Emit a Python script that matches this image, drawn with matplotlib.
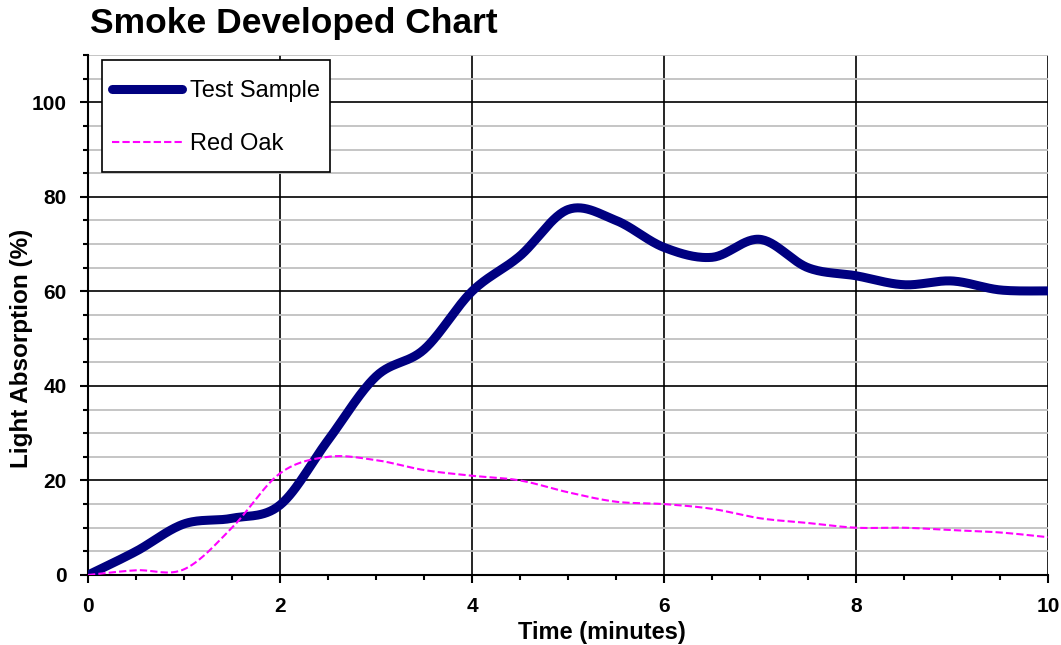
import numpy as np
import matplotlib
matplotlib.use("Agg")
import matplotlib.pyplot as plt
from matplotlib.ticker import MultipleLocator
from matplotlib.patches import Rectangle

time_min = [0, 0.5, 1, 1.5, 2, 2.5, 3, 3.5, 4, 4.5, 5, 5.5, 6, 6.5, 7, 7.5, 8, 8.5, 9, 9.5, 10]
test_sample = [0, 5, 10.8, 12, 14.8, 28.5, 42, 47.7, 60, 67.5, 77.3, 75, 69.3, 67.2, 71, 65, 63.3, 61.4, 62.2, 60.3, 60.1]
red_oak = [0, 1, 1.2, 10, 21.5, 25, 24.3, 22.2, 21, 20, 17.5, 15.5, 15, 14, 12, 11, 10, 10, 9.5, 9, 8]

title = "Smoke Developed Chart"
xlabel = "Time (minutes)"
ylabel = "Light Absorption (%)"


def smooth(x, y, n=30):
    # Catmull-Rom (Excel-like smoothed line) through the given points
    x = np.asarray(x, float)
    y = np.asarray(y, float)
    px = np.concatenate([[x[0]], x, [x[-1]]])
    py = np.concatenate([[y[0]], y, [y[-1]]])
    xs, ys = [], []
    t = np.linspace(0, 1, n, endpoint=False)
    for i in range(1, len(px) - 2):
        p0x, p1x, p2x, p3x = px[i - 1], px[i], px[i + 1], px[i + 2]
        p0y, p1y, p2y, p3y = py[i - 1], py[i], py[i + 1], py[i + 2]
        c1x = p1x + (p2x - p0x) / 6
        c1y = p1y + (p2y - p0y) / 6
        c2x = p2x - (p3x - p1x) / 6
        c2y = p2y - (p3y - p1y) / 6
        bx = (1 - t) ** 3 * p1x + 3 * (1 - t) ** 2 * t * c1x + 3 * (1 - t) * t ** 2 * c2x + t ** 3 * p2x
        by = (1 - t) ** 3 * p1y + 3 * (1 - t) ** 2 * t * c1y + 3 * (1 - t) * t ** 2 * c2y + t ** 3 * p2y
        xs.append(bx)
        ys.append(by)
    xs.append([x[-1]])
    ys.append([y[-1]])
    return np.concatenate(xs), np.concatenate(ys)


plt.rcParams['font.family'] = ['Liberation Sans', 'DejaVu Sans']

fig = plt.figure(figsize=(10.61, 6.45), dpi=100)
W, H = 1061, 645
ax = fig.add_axes([88 / W, 1 - 575 / H, (1048 - 88) / W, (575 - 55) / H])

ax.set_xlim(0, 10)
ax.set_ylim(0, 110)

ax.xaxis.set_major_locator(MultipleLocator(2))
ax.xaxis.set_minor_locator(MultipleLocator(0.5))
ax.yaxis.set_major_locator(MultipleLocator(20))
ax.yaxis.set_minor_locator(MultipleLocator(5))

ax.grid(which='major', axis='both', color='black', linewidth=1.2)
ax.grid(which='minor', axis='y', color='#c0c0c0', linewidth=1.3)
ax.set_axisbelow(True)

for s in ['top', 'right']:
    ax.spines[s].set_visible(False)
for s in ['left', 'bottom']:
    ax.spines[s].set_linewidth(1.5)
    ax.spines[s].set_color('black')

ax.tick_params(which='major', direction='out', length=5.8, width=1.5, labelsize=15)
ax.tick_params(which='minor', direction='out', length=3.6, width=1.5)
ax.tick_params(axis='x', which='major', pad=10)
ax.tick_params(axis='y', which='major', pad=9.4)
for lab in ax.get_xticklabels() + ax.get_yticklabels():
    lab.set_fontweight('bold')

sx, sy = smooth(time_min, test_sample)
ax.plot(sx, sy, color='#000080', linewidth=6.5, solid_capstyle='round', label='Test Sample', zorder=3)
rx, ry = smooth(time_min, red_oak)
ax.plot(rx, ry, color='#ff00ff', linewidth=1.5, linestyle=(0, (3.5, 1.5)), label='Red Oak', zorder=3)

fig.text(602 / W, 1 - 633 / H, xlabel, fontsize=17, fontweight='bold', ha='center', va='center')
fig.text(22 / W, 1 - 348 / H, ylabel, fontsize=17.5, fontweight='bold', ha='center', va='center',
         rotation=90)

fig.text(90 / W, 1 - 33 / H, title, fontsize=25.5, fontweight='bold', va='baseline', ha='left')

frame = Rectangle((102 / W, 1 - 172 / H), (330 - 102) / W, (172 - 60) / H, transform=fig.transFigure,
                  facecolor='white', edgecolor='black', linewidth=1.2, zorder=4)
ax.add_artist(frame)
leg = ax.legend(loc='center left', bbox_to_anchor=(112 / W, 1 - 117.5 / H),
                bbox_transform=fig.transFigure, fontsize=17, frameon=False,
                labelspacing=1.3, handlelength=2.96, handletextpad=0.34, borderpad=0,
                borderaxespad=0)
leg.set_zorder(5)

fig.savefig('out.png', dpi=100)
